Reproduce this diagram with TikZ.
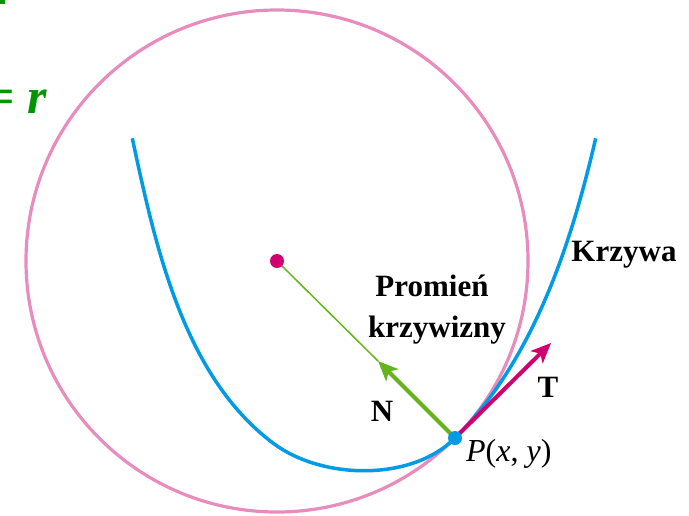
\documentclass[tikz,border=0pt]{standalone}
\usepackage{fontspec}
\setmainfont{Liberation Serif}
\usetikzlibrary{arrows.meta}
\definecolor{pinkc}{RGB}{232,140,190}
\definecolor{bluec}{RGB}{0,155,230}
\definecolor{magc}{RGB}{210,0,110}
\definecolor{greenc}{RGB}{100,180,30}
\definecolor{textg}{RGB}{0,150,0}
\tikzset{
  lbl/.style={font=\fontsize{31}{36}\selectfont\bfseries, inner sep=0pt},
  dotc/.style={circle, inner sep=0pt, minimum size=14pt},
  vec/.style={line width=4pt, -{Stealth[length=20pt,width=17pt,inset=5pt]}},
}
\begin{document}
\begin{tikzpicture}[x=1pt,y=-1pt]
\useasboundingbox (0,0) rectangle (689,515);
\clip (0,0) rectangle (689,515);
\fill[white] (0,0) rectangle (689,515);
% top-left fragments
\fill[textg] (0,0) rectangle (5,4);
\node[anchor=base west, inner sep=0pt, text=textg, font=\fontsize{50}{56}\selectfont\bfseries] (eq) at (-14,113) {= \textit{r}};
% osculating circle
\coordinate (c0) at (277,261);
\draw[pinkc, line width=3.2pt] (c0) circle (251);
% points
\coordinate (ntip) at (378,361);
\coordinate (ttip) at (551,343);
\coordinate (p0) at (455,438);
\coordinate (ca) at (132.3,138.3);
\coordinate (cb) at (273.3,443.3);
\coordinate (cd) at (595.7,138.3);
% curve
\draw[bluec, line width=3.5pt]
  (ca) .. controls (155.8,248) and (183.7,376.1) .. (cb)
       .. controls (322.1,479.9) and (411.9,481.6) .. (p0)
       .. controls (532.8,360.7) and (570.9,245.4) .. (cd);
\draw[greenc, line width=1.5pt] (c0) -- (ntip);
\draw[greenc, vec] (p0) -- (ntip);
\draw[magc, vec] (p0) -- (ttip);
\node[dotc, fill=magc] (c) at (c0) {};
\node[dotc, fill=bluec] (p) at (p0) {};
% labels
\node[lbl] (prom) at (432,286) {Promień};
\node[lbl] (krz) at (437,330) {krzywizny};
\node[lbl] (kr) at (624,255) {Krzywa};
\node[lbl] (n) at (382,411) {N};
\node[lbl] (t) at (548,387) {T};
\node[inner sep=0pt, anchor=base west, font=\fontsize{32}{36}\selectfont] (plab) at (466,461) {\textit{P}(\textit{x}, \textit{y})};
\end{tikzpicture}
\end{document}
